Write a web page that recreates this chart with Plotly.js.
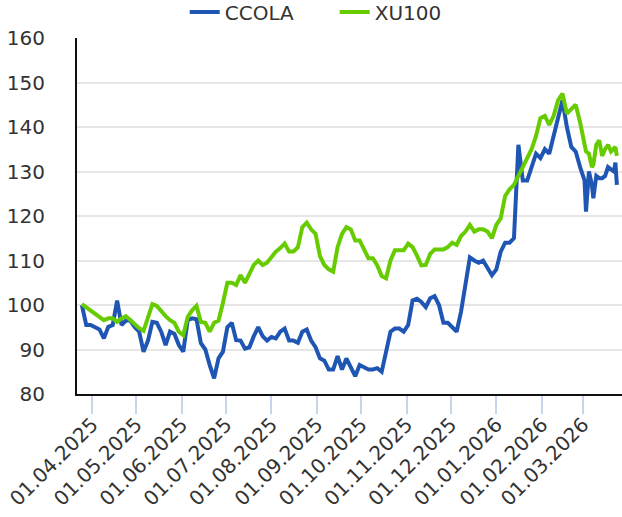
<!DOCTYPE html>
<html>
<head>
<meta charset="utf-8">
<script src="https://cdn.plot.ly/plotly-3.0.1.min.js"></script>
<style>html,body{margin:0;padding:0;background:#fff;}#chart{width:622px;height:517px;}</style>
</head>
<body>
<div id="chart"></div>
<script>
const dates = [
"2025-03-25","2025-03-28","2025-03-31","2025-04-03","2025-04-06","2025-04-09","2025-04-12","2025-04-15","2025-04-18","2025-04-21",
"2025-04-24","2025-04-27","2025-04-30","2025-05-03","2025-05-06","2025-05-09","2025-05-12","2025-05-15","2025-05-18","2025-05-21",
"2025-05-24","2025-05-27","2025-05-30","2025-06-02","2025-06-05","2025-06-08","2025-06-11","2025-06-14","2025-06-17","2025-06-20",
"2025-06-23","2025-06-26","2025-06-29","2025-07-02","2025-07-05","2025-07-08","2025-07-11","2025-07-14","2025-07-17","2025-07-20",
"2025-07-23","2025-07-26","2025-07-29","2025-08-01","2025-08-04","2025-08-07","2025-08-10","2025-08-13","2025-08-16","2025-08-19",
"2025-08-22","2025-08-25","2025-08-28","2025-08-31","2025-09-03","2025-09-06","2025-09-09","2025-09-12","2025-09-15","2025-09-18",
"2025-09-21","2025-09-24","2025-09-27","2025-09-30","2025-10-03","2025-10-06","2025-10-09","2025-10-12","2025-10-15","2025-10-18",
"2025-10-21","2025-10-24","2025-10-27","2025-10-30","2025-11-02","2025-11-05","2025-11-08","2025-11-11","2025-11-14","2025-11-17",
"2025-11-20","2025-11-23","2025-11-26","2025-11-29","2025-12-02","2025-12-05","2025-12-08","2025-12-11","2025-12-14","2025-12-17",
"2025-12-20","2025-12-23","2025-12-26","2025-12-29","2026-01-01","2026-01-04","2026-01-07","2026-01-10","2026-01-13","2026-01-16",
"2026-01-19","2026-01-22","2026-01-25","2026-01-28","2026-01-31","2026-02-03","2026-02-06","2026-02-09","2026-02-12","2026-02-15",
"2026-02-18","2026-02-21","2026-02-24","2026-02-27",
"2026-03-02","2026-03-03","2026-03-05","2026-03-07","2026-03-08","2026-03-10","2026-03-12","2026-03-14","2026-03-16","2026-03-18",
"2026-03-20","2026-03-22","2026-03-23","2026-03-24"
];

const ccola = [
100, 95.5, 95.5, 95, 94.5, 92.5, 95.1, 95.5, 101, 95.5,
96.5, 96.5, 95, 94, 89.5, 92, 96.2, 96, 94, 91,
94, 93.5, 91, 89.5, 96.6, 97, 96.8, 91.4, 90, 86.5,
83.5, 88, 89.5, 95, 96, 92.1, 92, 90.2, 90.5, 93,
95, 93, 92, 92.8, 92.5, 94, 94.7, 92, 92, 91.5,
94, 94.5, 92, 90.5, 88, 87.5, 85.5, 85.5, 88.5, 85.5,
88, 86, 84, 86.5, 86, 85.5, 85.5, 85.8, 85, 90,
94, 94.7, 94.7, 94, 95.5, 101, 101.4, 100.7, 99.5, 101.5,
102, 100, 96, 96, 95, 94, 98.5, 104, 110.7, 110,
109.5, 110, 108.5, 106.7, 108, 112, 114, 114, 115, 136,
128, 128, 131, 134, 133, 135, 134, 138.5, 142, 146,
140, 135.5, 134.5, 131,
128, 121, 130, 127, 124, 129, 128.5, 128.5, 129, 131,
130.5, 130, 132, 127
];

const xu100 = [
100.2, 99.5, 98.8, 98, 97.5, 96.6, 97, 97, 96.2, 97,
97.5, 96.5, 95.5, 94.8, 94.2, 97.5, 100.2, 99.8, 98.5, 97.5,
96.6, 96, 94, 93.2, 97.3, 98.8, 99.8, 96.2, 96, 94,
96, 96.5, 100.5, 105, 105, 104.5, 106.7, 105, 107, 109,
110, 109, 109.5, 110.8, 112, 112.8, 113.8, 112, 112, 113,
117.5, 118.5, 117, 116, 111, 109, 108, 107.5, 113, 116,
117.5, 117, 114.5, 114.5, 112.5, 110.5, 110.5, 108.9, 106.5, 106,
110, 112.3, 112.3, 112.3, 113.8, 113, 111.1, 108.9, 109, 111.5,
112.5, 112.5, 112.5, 113, 114, 113.5, 115.5, 116.5, 118, 116.5,
117, 117, 116.5, 115, 118, 119.5, 124.5, 126, 127, 129,
131, 133, 135, 138, 142, 142.5, 140.5, 142.5, 146, 147.5,
143, 144, 145, 141,
136, 134.5, 134, 131, 131.5, 136, 137, 133.5, 135, 136,
134.5, 135, 135.5, 133.5
];

const seriesNames = ["CCOLA", "XU100"];

const font = {family: "DejaVu Sans", size: 20, color: "#333"};

const traces = [
  {x: dates, y: ccola, name: seriesNames[0], type: "scatter", mode: "lines",
   line: {color: "#1f56b3", width: 4}},
  {x: dates, y: xu100, name: seriesNames[1], type: "scatter", mode: "lines",
   line: {color: "#66cc00", width: 4}}
];

const layout = {
  width: 622, height: 517,
  margin: {l: 77, r: 0, t: 38, b: 123, pad: 0, autoexpand: false},
  paper_bgcolor: "#fff", plot_bgcolor: "#fff",
  font: font,
  showlegend: true,
  legend: {orientation: "h", xref: "container", yref: "container",
           x: 0.297, xanchor: "left", y: 0.977, yanchor: "middle",
           entrywidth: 105, entrywidthmode: "pixels",
           font: font, bgcolor: "rgba(0,0,0,0)"},
  xaxis: {
    type: "date",
    range: ["2025-03-21 17:00", "2026-03-27 12:00"],
    tickformat: "%d.%m.%Y", dtick: "M1", tick0: "2025-04-01",
    tickangle: -45, ticks: "outside", ticklen: 18, tickwidth: 2, tickcolor: "#c8d5ee",
    ticklabelstandoff: -9,
    showgrid: false, zeroline: false,
    showline: true, linecolor: "#111", linewidth: 2,
    tickfont: font
  },
  yaxis: {
    range: [80, 160], dtick: 10, tick0: 80,
    showgrid: true, gridcolor: "#e6e6e6", gridwidth: 2,
    zeroline: false, showline: true, linecolor: "#111", linewidth: 2,
    ticks: "", ticklabelstandoff: 26,
    tickfont: font
  }
};

Plotly.newPlot("chart", traces, layout, {displayModeBar: false, staticPlot: true});
</script>
</body>
</html>
